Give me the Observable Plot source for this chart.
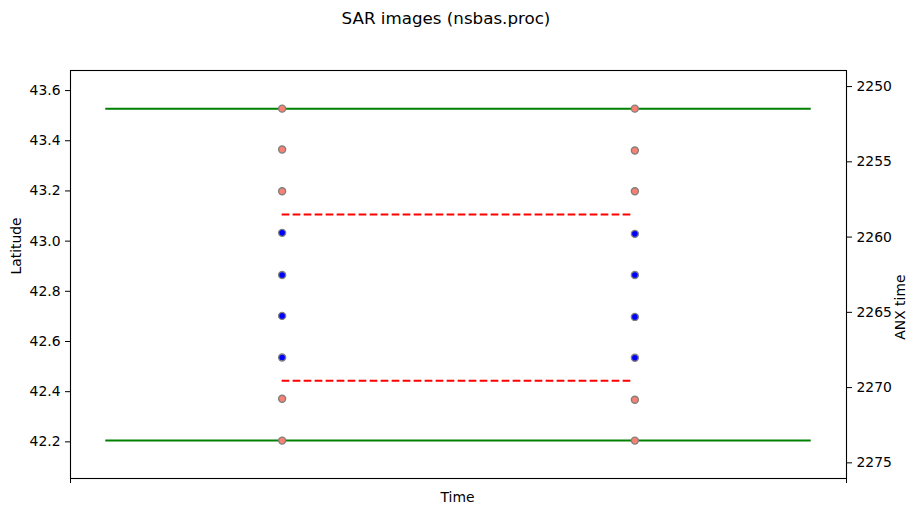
<!DOCTYPE html>
<html>
<head>
<meta charset="utf-8">
<script src="https://cdn.jsdelivr.net/npm/d3@7"></script>
<script src="https://cdn.jsdelivr.net/npm/@observablehq/plot@0.6"></script>
<style>
  html, body { margin: 0; padding: 0; background: #fff; }
</style>
</head>
<body>
<div id="chart"></div>
<script>
// ---- data ----
const titleText = "SAR images (nsbas.proc)";
const imageX = [0, 1];                       // the two acquisition positions on the time axis
const latImage1 = [43.528, 43.365, 43.199, 43.033, 42.865, 42.702, 42.536, 42.372, 42.205];
const latImage2 = [43.528, 43.361, 43.199, 43.029, 42.865, 42.698, 42.535, 42.368, 42.205];
const burstFill = ["#fa8072", "#fa8072", "#fa8072", "#0000ff", "#0000ff", "#0000ff", "#0000ff", "#fa8072", "#fa8072"];
const boundLat = [43.528, 42.205];           // green extent lines
const boundX = [-0.5, 1.5];
const cropLat = [43.106, 42.444];            // red dashed crop lines
const cropX = [0, 0.991];
const latTicks = [42.2, 42.4, 42.6, 42.8, 43.0, 43.2, 43.4, 43.6];
const anxTicks = [2250, 2255, 2260, 2265, 2270, 2275];
const xDomain = [-0.6, 1.6];
const yDomain = [42.054, 43.68];

// ANX time (right axis, inverted) expressed in latitude units
const anxToLat = a => 43.6 - (86 + (a - 2250) * 15.05 - 90) / 250.9;
const latToAnx = l => 2250 + ((43.6 - l) * 250.9 + 90 - 86) / 15.05;

const dots = [];
latImage1.forEach((v, i) => dots.push({x: imageX[0], lat: v, fill: burstFill[i]}));
latImage2.forEach((v, i) => dots.push({x: imageX[1], lat: v, fill: burstFill[i]}));

const chart = Plot.plot({
  width: 919,
  height: 515,
  marginLeft: 70,
  marginRight: 73,
  marginTop: 70,
  marginBottom: 37,
  style: {fontFamily: "DejaVu Sans, sans-serif", fontSize: "13.9px", color: "black", background: "white"},
  x: {domain: xDomain},
  y: {domain: yDomain},
  marks: [
    Plot.ruleY(boundLat, {y: d => d, x1: boundX[0], x2: boundX[1], stroke: "green", strokeWidth: 2}),
    Plot.ruleY(cropLat, {y: d => d, x1: cropX[0], x2: cropX[1], stroke: "red", strokeWidth: 2, strokeDasharray: "7.7,3.3"}),
    Plot.dot(dots, {x: "x", y: "lat", fill: "fill", r: 3.5, stroke: "gray", strokeWidth: 1.4}),
    Plot.frame({stroke: "black", strokeWidth: 1.1}),
    Plot.axisY({anchor: "left", ticks: latTicks, tickFormat: d3.format(".1f"), tickSize: 5, tickPadding: 5, label: null, fontSize: 13.9}),
    Plot.axisY({anchor: "right", ticks: anxTicks.map(anxToLat), tickFormat: d => String(Math.round(latToAnx(d))), tickSize: 5, tickPadding: 5, label: null, fontSize: 13.9}),
    Plot.axisX({ticks: xDomain, tickFormat: () => "", tickSize: 5, label: null}),
    Plot.text([titleText], {frameAnchor: "top", dx: -12.5, dy: -51.5, fontSize: 16.7, lineAnchor: "middle"}),
    Plot.text(["Time"], {frameAnchor: "bottom", dx: -1, dy: 19, fontSize: 13.9, lineAnchor: "middle"}),
    Plot.text(["Latitude"], {frameAnchor: "left", dx: -54, rotate: -90, fontSize: 13.9, lineAnchor: "middle"}),
    Plot.text(["ANX time"], {frameAnchor: "right", dx: 54, rotate: -90, fontSize: 13.9, lineAnchor: "middle"})
  ]
});
document.getElementById("chart").appendChild(chart);
</script>
</body>
</html>
